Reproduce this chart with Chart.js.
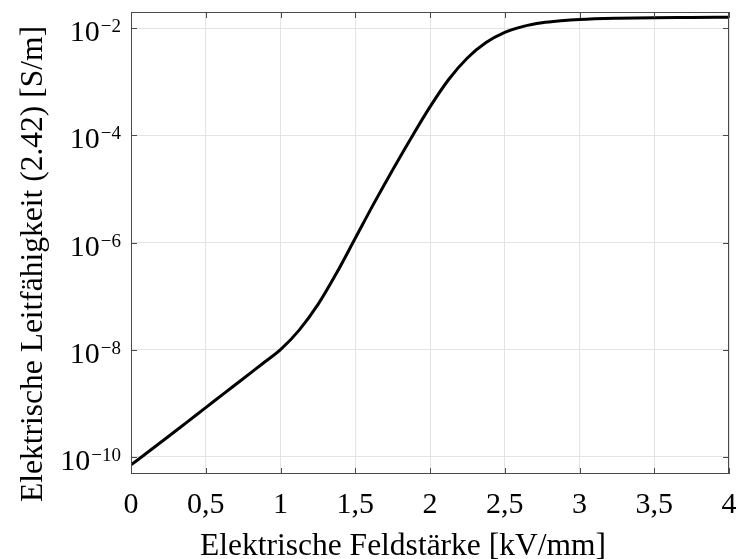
<!DOCTYPE html>
<html>
<head>
<meta charset="utf-8">
<script src="https://cdn.jsdelivr.net/npm/chart.js@4.4.1/dist/chart.umd.min.js"></script>
<style>
    html, body { margin: 0; padding: 0; background: #fff; }
    #wrap { width: 738px; height: 559px; position: relative; }
</style>
</head>
<body>
<div id="wrap"><canvas id="chart" width="738" height="559"></canvas></div>
<script>
// Feldstärke E in kV/mm
const fieldStrength = [0, 0.125, 0.25, 0.375, 0.5, 0.625, 0.75, 0.875, 1.0, 1.125, 1.25, 1.375, 1.5,
    1.625, 1.75, 1.875, 2.0, 2.125, 2.25, 2.375, 2.5, 2.625, 2.75, 2.875, 3.0, 3.25, 3.5, 3.75, 4.0];

// Leitfähigkeit sigma in S/m
const conductivity = [7.1e-11, 1.30e-10, 2.40e-10, 4.47e-10, 8.32e-10, 1.55e-9, 2.88e-9, 5.37e-9, 1.0e-8,
    2.32e-8, 6.92e-8, 2.69e-7, 1.20e-6, 5.37e-6, 2.26e-5, 9.02e-5, 3.39e-4, 1.10e-3, 2.77e-3, 5.37e-3,
    8.32e-3, 1.08e-2, 1.26e-2, 1.37e-2, 1.45e-2, 1.53e-2, 1.57e-2, 1.58e-2, 1.60e-2];

const xTicks = [0, 0.5, 1, 1.5, 2, 2.5, 3, 3.5, 4];
const xTickLabels = ['0', '0,5', '1', '1,5', '2', '2,5', '3', '3,5', '4'];
const yTicks = [1e-10, 1e-8, 1e-6, 1e-4, 1e-2];
const yExponents = ['\u221210', '\u22128', '\u22126', '\u22124', '\u22122'];

const xTitle = 'Elektrische Feldstärke [kV/mm]';
const yTitle = 'Elektrische Leitfähigkeit (2.42) [S/m]';

const FONT = '"Liberation Serif", "Times New Roman", serif';
const AXIS_COLOR = '#4a4a4a';

// Rahmen, nach innen zeigende Ticks und Beschriftungen (MATLAB-Stil)
const axesDecor = {
    id: 'axesDecor',
    afterDraw(chart) {
        const { ctx, chartArea: a, scales } = chart;
        const x = scales.x, y = scales.y;
        const tick = 6;

        ctx.save();
        ctx.strokeStyle = AXIS_COLOR;
        ctx.lineWidth = 1;
        ctx.strokeRect(Math.round(a.left) + 0.5, Math.round(a.top) + 0.5,
            Math.round(a.right - a.left) - 1, Math.round(a.bottom - a.top) - 1);

        ctx.beginPath();
        xTicks.forEach(v => {
            const px = Math.round(x.getPixelForValue(v)) + 0.5;
            ctx.moveTo(px, a.bottom); ctx.lineTo(px, a.bottom - tick);
            ctx.moveTo(px, a.top); ctx.lineTo(px, a.top + tick);
        });
        yTicks.forEach(v => {
            const py = Math.round(y.getPixelForValue(v)) + 0.5;
            ctx.moveTo(a.left, py); ctx.lineTo(a.left + tick, py);
            ctx.moveTo(a.right, py); ctx.lineTo(a.right - tick, py);
        });
        ctx.stroke();

        ctx.fillStyle = '#000';
        ctx.textBaseline = 'alphabetic';

        // x-Achse
        ctx.font = '30px ' + FONT;
        ctx.textAlign = 'center';
        xTicks.forEach((v, i) => {
            ctx.fillText(xTickLabels[i], x.getPixelForValue(v), 513);
        });

        // y-Achse: 10 mit hochgestelltem Exponenten
        yTicks.forEach((v, i) => {
            const py = y.getPixelForValue(v);
            ctx.font = '19px ' + FONT;
            const expW = ctx.measureText(yExponents[i]).width;
            ctx.textAlign = 'right';
            ctx.fillText(yExponents[i], 121, py + 4);
            ctx.font = '30px ' + FONT;
            ctx.fillText('10', 121 - expW - 1, py + 13);
        });

        // Achsentitel
        ctx.font = '31.5px ' + FONT;
        ctx.textAlign = 'center';
        ctx.fillText(xTitle, 403, 555);

        ctx.translate(42, 264);
        ctx.rotate(-Math.PI / 2);
        ctx.fillText(yTitle, 0, 0);
        ctx.restore();
    }
};

new Chart(document.getElementById('chart'), {
    type: 'line',
    data: {
        datasets: [{
            data: fieldStrength.map((e, i) => ({ x: e, y: conductivity[i] })),
            borderColor: '#000',
            borderWidth: 3,
            pointRadius: 0,
            cubicInterpolationMode: 'monotone',
            fill: false
        }]
    },
    options: {
        responsive: false,
        animation: false,
        events: [],
        layout: { padding: { top: 12, right: 9, left: 0, bottom: 0 } },
        plugins: {
            legend: { display: false },
            tooltip: { enabled: false }
        },
        scales: {
            x: {
                type: 'linear',
                min: 0,
                max: 4,
                afterBuildTicks: (s) => { s.ticks = xTicks.map(v => ({ value: v })); },
                afterFit: (s) => { s.height = 85; },
                ticks: { display: false },
                grid: { color: '#e3e3e3', drawTicks: false },
                border: { display: false }
            },
            y: {
                type: 'logarithmic',
                min: 4.8e-11,
                max: 2.0e-2,
                afterBuildTicks: (s) => { s.ticks = yTicks.map(v => ({ value: v })); },
                afterFit: (s) => { s.width = 131; },
                ticks: { display: false },
                grid: { color: '#e3e3e3', drawTicks: false },
                border: { display: false }
            }
        }
    },
    plugins: [axesDecor]
});
</script>
</body>
</html>
